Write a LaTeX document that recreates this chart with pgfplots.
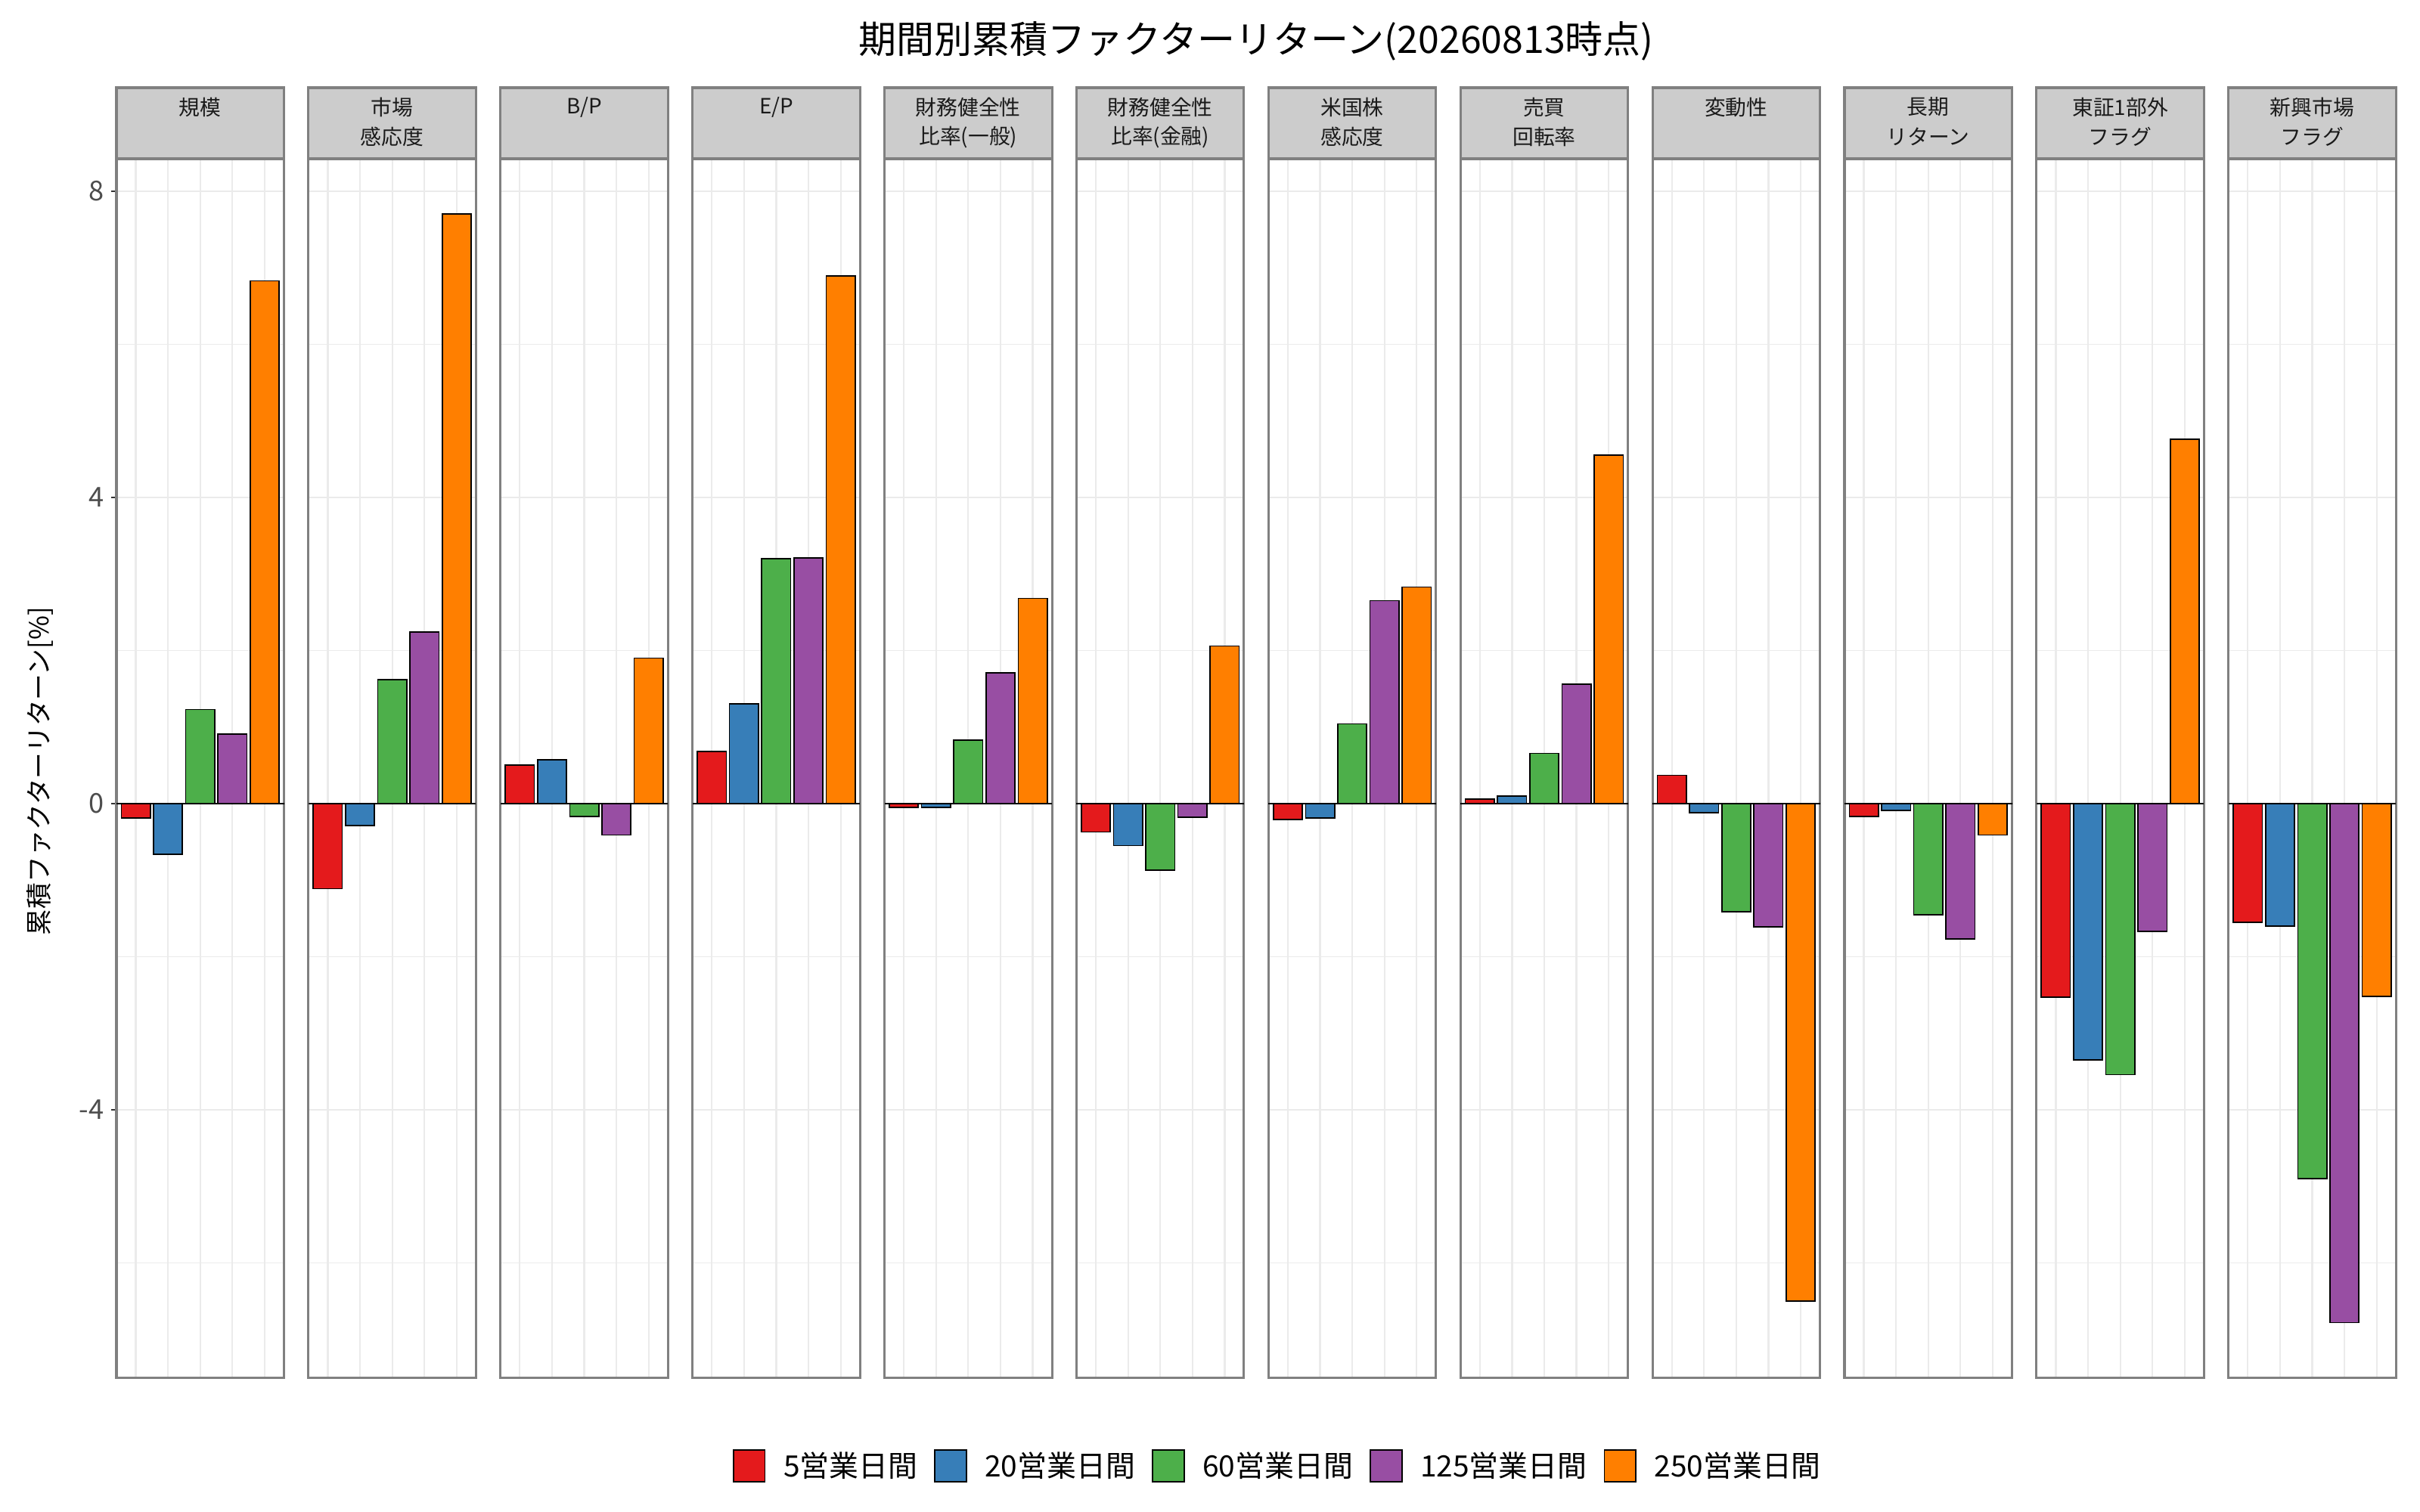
\documentclass[border=0pt]{standalone}
\usepackage{fontspec}
\setmainfont{Noto Sans CJK JP}
\usepackage{pgfplots}
\pgfplotsset{compat=1.18}
\definecolor{c1}{HTML}{E41A1C}
\definecolor{c2}{HTML}{377EB8}
\definecolor{c3}{HTML}{4DAF4A}
\definecolor{c4}{HTML}{984EA3}
\definecolor{c5}{HTML}{FF7F00}
\definecolor{stripfill}{HTML}{CCCCCC}
\definecolor{bordergray}{HTML}{808080}
\definecolor{gridgray}{HTML}{EBEBEB}
\definecolor{tickgray}{HTML}{4D4D4D}
\definecolor{striptext}{HTML}{1A1A1A}
\pgfplotsset{
  fpanel/.style={scale only axis, width=79.74pt, height=580.6pt, anchor=south west,
    xmin=0.4, xmax=5.6, ymin=-7.504, ymax=8.424,
    xtick={1,2,3,4,5}, xticklabels={}, xtick style={draw=none},
    ytick={-4,0,4,8}, minor ytick={-6,-2,2,6}, minor tick length=0pt,
    xmajorgrids, ymajorgrids, yminorgrids,
    major grid style={gridgray, line width=0.8pt},
    minor grid style={gridgray, line width=0.4pt},
    axis line style={bordergray, line width=1.1pt},
    tick align=outside, ytick pos=left, clip=false},
  ffirst/.style={yticklabels={-4,0,4,8},
    yticklabel style={font=\fontsize{13}{15}\selectfont, text=tickgray},
    ytick style={draw=black!80, line width=0.8pt}, major tick length=2.5pt,
    legend entries={5営業日間,20営業日間,60営業日間,125営業日間,250営業日間},
    legend columns=5, legend cell align=left,
    legend style={draw=none, fill=none, at={(6.94,-0.072)}, anchor=center,
      font=\fontsize{14}{16}\selectfont,
      /tikz/every odd column/.append style={column sep=6.5pt},
      /tikz/every even column/.append style={column sep=6pt}}},
  fother/.style={yticklabels={}, ytick style={draw=none}, major tick length=0pt},
  fbar/.style={ybar, bar width=0.9, bar shift=0pt, draw=black, line width=0.6pt, fill=#1,
    legend image code/.code={\draw[fill=#1, draw=black, line width=0.6pt] (0pt,-7.5pt) rectangle (15pt,7.5pt);}}
}
\newcommand{\panel}[9]{%
  \begin{axis}[fpanel, #2, at={({55.44pt+(#1-1)*91.4pt},63.8pt)}]
    \addplot[fbar=c1] coordinates {(1,#5)};
    \addplot[fbar=c2] coordinates {(2,#6)};
    \addplot[fbar=c3] coordinates {(3,#7)};
    \addplot[fbar=c4] coordinates {(4,#8)};
    \addplot[fbar=c5] coordinates {(5,#9)};
    \draw[black, line width=0.9pt] (axis cs:0.4,0) -- (axis cs:5.6,0);
  \end{axis}
  \draw[fill=stripfill, draw=bordergray, line width=1.1pt] ({55.44pt+(#1-1)*91.4pt},644.4pt) rectangle ++(79.74pt,33.84pt);
  \node[font=\fontsize{10}{12}\selectfont, text=striptext] at ({55.44pt+(#1-1)*91.4pt+39.87pt},669pt) {#3};
  \node[font=\fontsize{10}{12}\selectfont, text=striptext] at ({55.44pt+(#1-1)*91.4pt+39.87pt},654.8pt) {#4};
}
\begin{document}
\begin{tikzpicture}
\useasboundingbox (0,0) rectangle (1152pt,720pt);
% index, style, strip line 1, strip line 2, 5d, 20d, 60d, 125d, 250d
\panel{1}{ffirst}{規模}{}{-0.19}{-0.66}{1.23}{0.91}{6.83}
\panel{2}{fother}{市場}{感応度}{-1.11}{-0.29}{1.62}{2.24}{7.70}
\panel{3}{fother}{B/P}{}{0.50}{0.57}{-0.17}{-0.41}{1.90}
\panel{4}{fother}{E/P}{}{0.68}{1.30}{3.20}{3.21}{6.89}
\panel{5}{fother}{財務健全性}{比率(一般)}{-0.05}{-0.05}{0.83}{1.71}{2.68}
\panel{6}{fother}{財務健全性}{比率(金融)}{-0.37}{-0.55}{-0.87}{-0.18}{2.06}
\panel{7}{fother}{米国株}{感応度}{-0.21}{-0.19}{1.04}{2.65}{2.83}
\panel{8}{fother}{売買}{回転率}{0.06}{0.10}{0.655}{1.56}{4.55}
\panel{9}{fother}{変動性}{}{0.37}{-0.12}{-1.41}{-1.61}{-6.50}
\panel{10}{fother}{長期}{リターン}{-0.17}{-0.09}{-1.45}{-1.77}{-0.41}
\panel{11}{fother}{東証1部外}{フラグ}{-2.53}{-3.35}{-3.54}{-1.67}{4.76}
\panel{12}{fother}{新興市場}{フラグ}{-1.55}{-1.60}{-4.90}{-6.78}{-2.52}
\node[font=\fontsize{18}{20}\selectfont] at (598pt,700.4pt) {期間別累積ファクターリターン(20260813時点)};
\node[rotate=90, font=\fontsize{12.5}{14}\selectfont] at (18.9pt,352.8pt) {累積ファクターリターン[\%]};
\end{tikzpicture}
\end{document}
